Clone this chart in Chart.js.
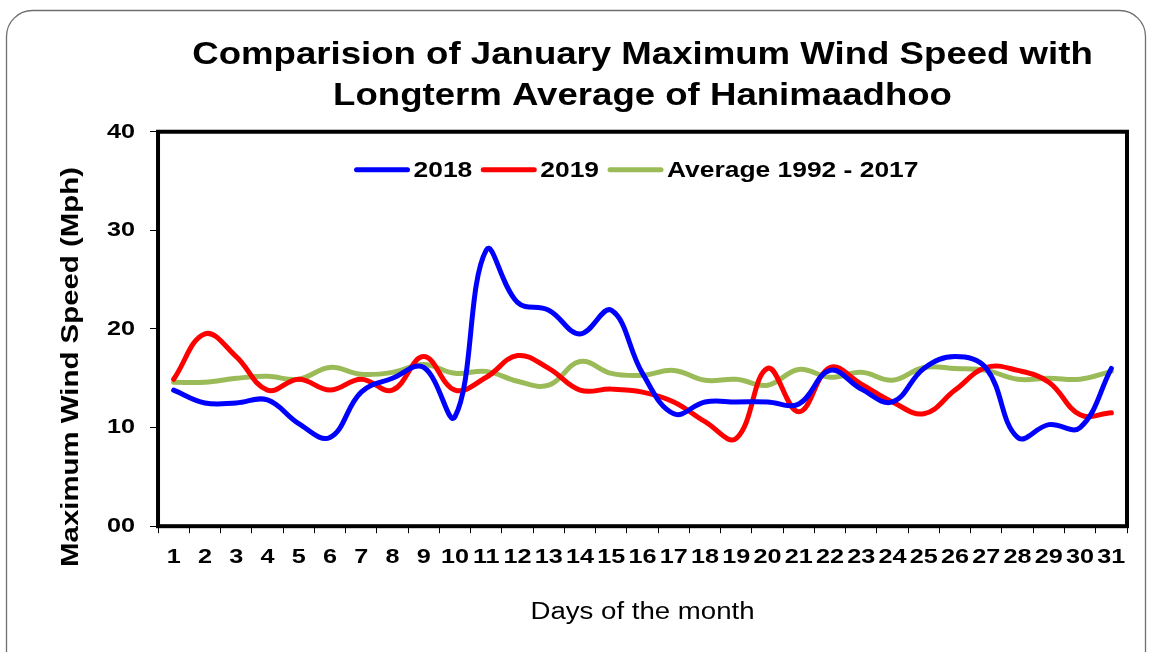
<!DOCTYPE html>
<html>
<head>
<meta charset="utf-8">
<script src="https://cdn.jsdelivr.net/npm/chart.js@4/dist/chart.umd.min.js"></script>
<style>
  html, body { margin: 0; padding: 0; background: #fff; }
  #wrap { width: 1153px; height: 652px; position: relative; }
</style>
</head>
<body>
<div id="wrap"><canvas id="c" width="1153" height="652"></canvas></div>
<script>
const days = ['1','2','3','4','5','6','7','8','9','10','11','12','13','14','15','16','17','18','19','20','21','22','23','24','25','26','27','28','29','30','31'];
const wind2018 = [13.8,12.5,12.5,12.8,10.4,9.0,13.6,15.0,16.1,11.1,28.0,22.7,21.9,19.5,21.9,15.5,11.4,12.6,12.6,12.6,12.4,15.8,13.9,12.6,16.0,17.2,16.0,9.0,10.3,10.0,16.0];
const wind2019 = [14.9,19.5,17.2,13.8,14.9,13.8,14.9,13.8,17.2,13.8,15.1,17.3,16.0,13.8,13.9,13.6,12.6,10.6,8.9,16.0,11.6,16.1,14.4,12.6,11.4,13.8,16.1,15.8,14.6,11.3,11.5];
const windAvg = [14.6,14.6,15.0,15.2,14.9,16.1,15.4,15.6,16.4,15.5,15.7,14.7,14.3,16.7,15.5,15.3,15.8,14.8,14.9,14.3,15.9,15.1,15.6,14.8,16.1,16.0,15.8,14.9,15.0,14.9,15.7];
const seriesNames = ['2018', '2019', 'Average 1992 - 2017'];
const seriesColors = ['#0000FF', '#FF0000', '#9BBB59'];
const yTicks = [0, 10, 20, 30, 40];
const yAxisTitle = 'Maximum Wind Speed (Mph)';

const FONT = "'Liberation Sans', Arial, sans-serif";

// The reference's lettering is slightly wide; widen glyphs a little (text stays real text).
const SX = 1.2;
(function () {
  const P = CanvasRenderingContext2D.prototype;
  const origFill = P.fillText;
  const origMeasure = P.measureText;
  P.fillText = function (text, x, y, maxWidth) {
    this.save();
    this.translate(x, y);
    this.scale(SX, 1);
    if (maxWidth !== undefined) origFill.call(this, text, 0, 0, maxWidth / SX);
    else origFill.call(this, text, 0, 0);
    this.restore();
  };
  P.measureText = function (text) {
    const m = origMeasure.call(this, text);
    return {
      width: m.width * SX,
      actualBoundingBoxLeft: m.actualBoundingBoxLeft * SX,
      actualBoundingBoxRight: m.actualBoundingBoxRight * SX,
      actualBoundingBoxAscent: m.actualBoundingBoxAscent,
      actualBoundingBoxDescent: m.actualBoundingBoxDescent,
      fontBoundingBoxAscent: m.fontBoundingBoxAscent,
      fontBoundingBoxDescent: m.fontBoundingBoxDescent
    };
  };
})();

const frame = {
  id: 'frame',
  beforeDraw(chart) {
    const ctx = chart.ctx;
    ctx.save();
    ctx.strokeStyle = '#6f6f6f';
    ctx.lineWidth = 1.3;
    ctx.beginPath();
    ctx.roundRect(6.5, 10.5, 1139, 720, 26);
    ctx.stroke();
    ctx.restore();
  },
  afterDatasetsDraw(chart) {
    const a = chart.chartArea;
    const ctx = chart.ctx;
    ctx.save();
    ctx.strokeStyle = '#000';
    ctx.lineWidth = 4;
    ctx.strokeRect(a.left, a.top, a.right - a.left, a.bottom - a.top);

    // legend inside the plot area, horizontal and centred
    ctx.font = 'bold 22px ' + FONT;
    ctx.textBaseline = 'middle';
    ctx.textAlign = 'left';
    const lineLen = 55, gapText = 4, gapItem = 9;
    const items = chart.data.datasets.map(d => ({ label: d.label, color: d.borderColor, w: ctx.measureText(d.label).width }));
    let total = 0;
    items.forEach((it, i) => { total += lineLen + gapText + it.w + (i < items.length - 1 ? gapItem : 0); });
    let x = (a.left + a.right) / 2 - total / 2 - 6;
    const y = a.top + 38;
    ctx.lineCap = 'round';
    items.forEach(it => {
      ctx.strokeStyle = it.color;
      ctx.lineWidth = 5;
      ctx.beginPath();
      ctx.moveTo(x + 2, y);
      ctx.lineTo(x + lineLen - 2, y);
      ctx.stroke();
      x += lineLen + gapText;
      ctx.fillStyle = '#000';
      ctx.fillText(it.label, x, y + 1);
      x += it.w + gapItem;
    });

    // y-axis title, placed as in the reference (slightly below the plot centre)
    const yMid = (a.top + a.bottom) / 2 + 38;
    ctx.translate(71, yMid);
    ctx.rotate(-Math.PI / 2);
    ctx.font = 'bold 24.5px ' + FONT;
    ctx.textAlign = 'center';
    ctx.textBaseline = 'middle';
    ctx.fillStyle = '#000';
    ctx.fillText(yAxisTitle, 0, 0);
    ctx.restore();
  }
};

new Chart(document.getElementById('c'), {
  type: 'line',
  data: {
    labels: days,
    datasets: [wind2018, wind2019, windAvg].map((vals, i) => ({
      label: seriesNames[i], data: vals,
      borderColor: seriesColors[i], backgroundColor: seriesColors[i],
      borderWidth: 5, pointRadius: 0, tension: 0.4, fill: false,
      borderCapStyle: 'round', borderJoinStyle: 'round'
    }))
  },
  options: {
    responsive: false,
    animation: false,
    layout: { padding: { top: 18, left: 92, right: 26, bottom: 26 } },
    plugins: {
      title: {
        display: true,
        fullSize: false,
        text: ['Comparision of January Maximum Wind Speed with', 'Longterm Average of Hanimaadhoo'],
        color: '#000',
        font: { family: FONT, size: 30.5, weight: 'bold', lineHeight: 1.34 },
        padding: { top: 17, bottom: 15 }
      },
      legend: { display: false },
      tooltip: { enabled: false }
    },
    scales: {
      x: {
        type: 'category',
        offset: true,
        grid: { display: true, offset: true, drawOnChartArea: false, drawTicks: true, tickLength: 7, color: '#000', lineWidth: 1 },
        border: { display: false },
        ticks: { color: '#000', font: { family: FONT, size: 21, weight: 'bold' }, autoSkip: false, maxRotation: 0, minRotation: 0, padding: 11 },
        title: { display: true, text: 'Days of the month', color: '#000', font: { family: FONT, size: 23 }, padding: { top: 18, bottom: 0 } }
      },
      y: {
        min: 0, max: 40,
        afterBuildTicks(scale) { scale.ticks = yTicks.map(v => ({ value: v })); },
        grid: { display: true, drawOnChartArea: false, drawTicks: true, tickLength: 8, color: '#000', lineWidth: 1 },
        border: { display: false },
        ticks: { color: '#000', font: { family: FONT, size: 21, weight: 'bold' }, padding: 15,
          callback: v => String(v).padStart(2, '0') },
        title: { display: false }
      }
    }
  },
  plugins: [frame]
});
</script>
</body>
</html>
